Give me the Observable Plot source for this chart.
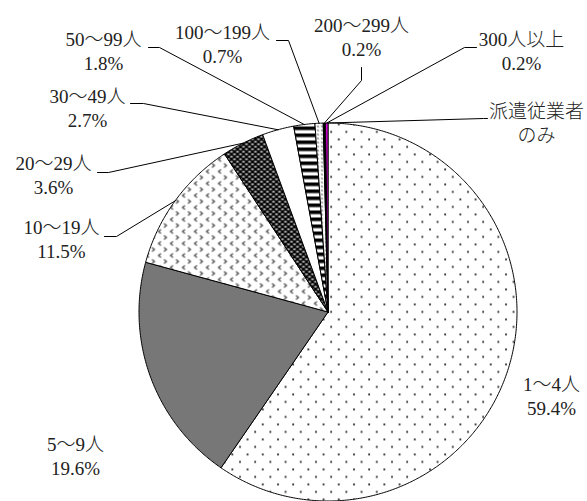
<!DOCTYPE html>
<html><head><meta charset="utf-8">
<script src="https://cdn.jsdelivr.net/npm/d3@7"></script>
<script src="https://cdn.jsdelivr.net/npm/@observablehq/plot@0.6"></script>
<style>body{margin:0;background:#fff}</style>
</head><body><div id="chart"></div>
<script>
// ---- data ----
const categories = ["1～4人","5～9人","10～19人","20～29人","30～49人","50～99人","100～199人","200～299人","300人以上","派遣従業者のみ"];
const shares = [59.4, 19.6, 11.5, 3.6, 2.7, 1.8, 0.7, 0.2, 0.2, 0.0];
const valueLabels = ["59.4%","19.6%","11.5%","3.6%","2.7%","1.8%","0.7%","0.2%","0.2%",""];
const displayNames = ["1～4人","5～9人","10～19人","20～29人","30～49人","50～99人","100～199人","200～299人","300人以上","派遣従業者\nのみ"];

// ---- styles ----
const sliceFills = ["url(#p-dots)","url(#p-check)","url(#p-chev)","url(#p-weave)","#ffffff","url(#p-stripe)","url(#p-dash)","#000000","#ff00ff","#ffffff"];

// ---- layout (pixel space) ----
const W = 587, H = 501;
const cx = 327.5, cy = 311.5, R = 189;
const labelX = [551, 75, 61, 53, 87, 103, 222, 361, 521, 536];
const labelY = [395, 455, 238, 174, 107, 50, 43, 36, 50, 122];
const leaderStart = [null, null, [104,236], [97,172], [130,103], [148,47], [276,40], [361,67], [476,47], [487,118]];
const leaderElbow = [null, null, [116,236], [108,172], [143,103], [159,47], [288,40], [361,80], [464,47], [483,118]];

const table = categories.map((c,i)=>({category:c, share:shares[i], value:valueLabels[i], name:displayNames[i], fill:sliceFills[i]}));
const arcs = d3.pie().value(d=>d.share).sort(null).startAngle(0).endAngle(2*Math.PI)(table);

const sliceMarks = [];
arcs.forEach((a,i)=>{
  if (a.endAngle - a.startAngle <= 0) return;
  const pts = [{x:cx,y:cy}];
  const n = Math.max(2, Math.ceil((a.endAngle-a.startAngle)/(Math.PI/360)));
  for (let k=0;k<=n;k++){
    const t = a.startAngle + (a.endAngle-a.startAngle)*k/n;
    pts.push({x:cx+R*Math.sin(t), y:cy-R*Math.cos(t)});
  }
  pts.push({x:cx,y:cy});
  sliceMarks.push(Plot.line(pts,{x:"x",y:"y",fill:a.data.fill,stroke:"#000",strokeWidth:1,strokeLinejoin:"round",curve:"linear"}));
});

const leaders = [];
arcs.forEach((a,i)=>{
  if (!leaderStart[i]) return;
  const m = (a.startAngle+a.endAngle)/2;
  const key = categories[i];
  leaders.push({key,x:leaderStart[i][0],y:leaderStart[i][1]});
  leaders.push({key,x:leaderElbow[i][0],y:leaderElbow[i][1]});
  leaders.push({key,x:cx+R*Math.sin(m),y:cy-R*Math.cos(m)});
});

const labels = table.map((d,i)=>({x:labelX[i], y:labelY[i], text: d.value ? d.name + "\n" + d.value : d.name}));

const plot = Plot.plot({
  width: W, height: H, margin: 0,
  x: {domain:[0,W], range:[0,W], axis:null},
  y: {domain:[0,H], range:[0,H], axis:null},
  style: {background:"#fff"},
  marks: [
    ...sliceMarks,
    Plot.line(leaders,{x:"x",y:"y",z:"key",stroke:"#000",strokeWidth:1,curve:"linear"}),
    Plot.text(labels,{x:"x",y:"y",text:"text",fontSize:19,lineHeight:1.26,fill:"#222",fontWeight:300,
      fontFamily:"'Liberation Serif','Noto Sans CJK JP',serif",lineAnchor:"middle"})
  ]
});

const ns = "http://www.w3.org/2000/svg";
const defs = document.createElementNS(ns,"defs");
defs.innerHTML = `
<pattern id="p-dots" patternUnits="userSpaceOnUse" width="15.2" height="15">
  <rect width="15.2" height="15" fill="#fff"/>
  <rect x="3" y="3" width="1.8" height="1.8" fill="#222"/>
  <rect x="10.6" y="10.5" width="1.8" height="1.8" fill="#222"/>
</pattern>
<pattern id="p-check" patternUnits="userSpaceOnUse" width="2" height="2">
  <rect width="2" height="2" fill="#4a4a4a"/>
  <rect width="1" height="1" fill="#fff"/>
</pattern>
<pattern id="p-chev" patternUnits="userSpaceOnUse" width="12" height="12">
  <rect width="12" height="12" fill="#fff"/>
  <path d="M4.5,1 L2,3 L4.5,5" fill="none" stroke="#444" stroke-width="1.2"/>
  <path d="M7.5,7 L10,9 L7.5,11" fill="none" stroke="#444" stroke-width="1.2"/>
</pattern>
<pattern id="p-weave" patternUnits="userSpaceOnUse" width="6" height="5">
  <rect width="6" height="5" fill="#000"/>
  <ellipse cx="3" cy="1.2" rx="1.6" ry="0.7" fill="#fff"/>
  <ellipse cx="0" cy="3.7" rx="1.6" ry="0.7" fill="#fff"/>
  <ellipse cx="6" cy="3.7" rx="1.6" ry="0.7" fill="#fff"/>
</pattern>
<pattern id="p-stripe" patternUnits="userSpaceOnUse" width="7" height="7">
  <rect width="7" height="7" fill="#fff"/>
  <rect width="7" height="3.6" fill="#000"/>
</pattern>
<pattern id="p-dash" patternUnits="userSpaceOnUse" width="4" height="4">
  <rect width="4" height="4" fill="#fff"/>
  <path d="M1,1 L2,3" stroke="#444" stroke-width="1"/>
</pattern>`;
plot.insertBefore(defs, plot.firstChild);
document.getElementById("chart").appendChild(plot);
</script>
</body></html>
